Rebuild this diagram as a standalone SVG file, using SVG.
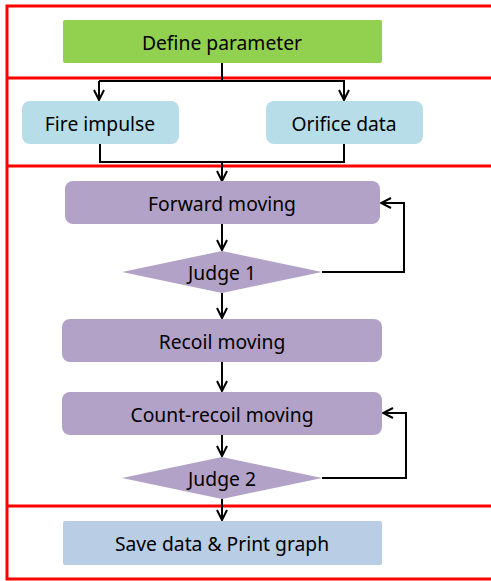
<svg xmlns="http://www.w3.org/2000/svg" width="491" height="581" viewBox="0 0 491 581">
<style>
text{font-family:"Noto Sans","Liberation Sans",sans-serif;font-size:19.3px;fill:#000;text-anchor:middle;dominant-baseline:central}
.frame{fill:none;stroke:#FF0000;stroke-width:3}
.c{fill:none;stroke:#000;stroke-width:2}
.p{fill:#B3A2C7}
</style>
<defs>
<marker id="ah" viewBox="0 0 12 12" refX="11" refY="6" markerWidth="12" markerHeight="12" markerUnits="userSpaceOnUse" orient="auto">
<path d="M1,1 L11,6 L1,11" fill="none" stroke="#000" stroke-width="2"/>
</marker>
</defs>
<g id="frame">
<path class="frame" d="M491,6 H7 V579 H491 M7,78 H491 M7,166 H491 M7,506 H491"/>
</g>
<g id="connectors">
<path class="c" d="M222,63 V81 M99,81 H345"/>
<path class="c" d="M99,81 V100" marker-end="url(#ah)"/>
<path class="c" d="M344,81 V100" marker-end="url(#ah)"/>
<path class="c" d="M100,144 V162 H344 V144"/>
<path class="c" d="M222,162 V181" marker-end="url(#ah)"/>
<path class="c" d="M222,224 V250" marker-end="url(#ah)"/>
<path class="c" d="M322,272 H404 V203 H381" marker-end="url(#ah)"/>
<path class="c" d="M222,293 V318" marker-end="url(#ah)"/>
<path class="c" d="M222,362 V391" marker-end="url(#ah)"/>
<path class="c" d="M222,435 V456" marker-end="url(#ah)"/>
<path class="c" d="M322,478 H406 V413 H383" marker-end="url(#ah)"/>
<path class="c" d="M222,499 V520" marker-end="url(#ah)"/>
</g>
<g id="define"><rect x="63" y="20" width="319" height="43" rx="2" fill="#92D050"/><text x="222" y="42">Define parameter</text></g>
<g id="fire"><rect x="22" y="101" width="157" height="43" rx="8" fill="#B7DDE8"/><text x="100" y="123">Fire impulse</text></g>
<g id="orifice"><rect x="266" y="101" width="157" height="43" rx="8" fill="#B7DDE8"/><text x="344" y="123">Orifice data</text></g>
<g id="forward"><rect class="p" x="65" y="181" width="315" height="43" rx="8"/><text x="222" y="203">Forward moving</text></g>
<g id="judge1"><polygon class="p" points="122,272 222,251 322,272 222,293"/><text x="222" y="272">Judge 1</text></g>
<g id="recoil"><rect class="p" x="62" y="319" width="320" height="43" rx="8"/><text x="222" y="341">Recoil moving</text></g>
<g id="count"><rect class="p" x="62" y="392" width="320" height="43" rx="8"/><text x="222" y="414">Count-recoil moving</text></g>
<g id="judge2"><polygon class="p" points="122,478 222,457 322,478 222,499"/><text x="222" y="478">Judge 2</text></g>
<g id="save"><rect x="63" y="521" width="319" height="44" rx="2" fill="#B9CDE5"/><text x="222" y="543">Save data &amp; Print graph</text></g>
</svg>
